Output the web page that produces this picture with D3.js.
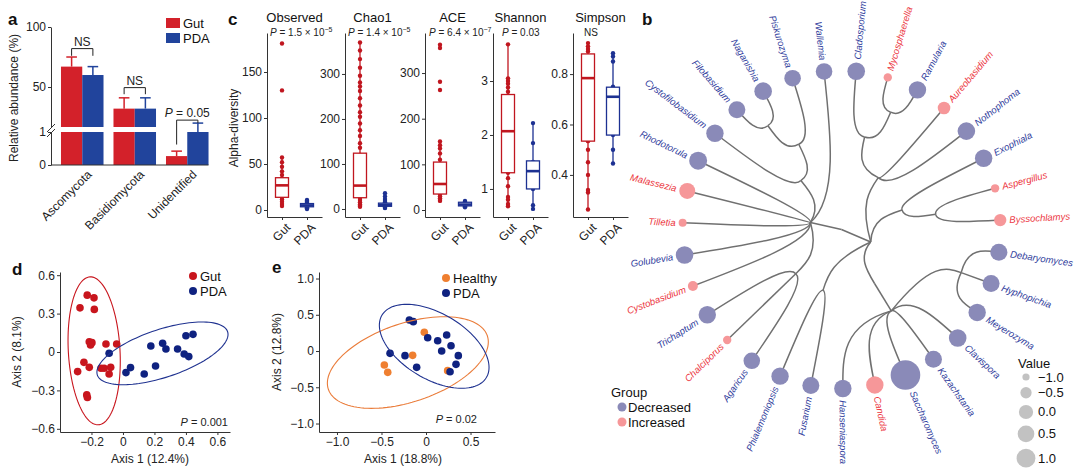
<!DOCTYPE html>
<html>
<head>
<meta charset="utf-8">
<script src="https://cdn.jsdelivr.net/npm/d3@7/dist/d3.min.js"></script>
<style>
html,body{margin:0;padding:0;background:#fff;}
svg{display:block;}
</style>
</head>
<body>
<svg id="fig" width="1080" height="474"></svg>
<script>
// ================= DATA =================
// (a) relative abundance by phylum
const phyla = ["Ascomycota", "Basidiomycota", "Unidentified"];
const gutAbundance = [67, 32, 0.27];
const gutErrorTop  = [75, 41, 0.42];
const pdaAbundance = [60, 32, 1.0];
const pdaErrorTop  = [67, 41, 1.27];
const abundanceTicksUpper = [50, 100];
const abundanceTicksLower = [0, 1];
const abundanceTests = ["NS", "NS", "P = 0.05"];
// bracket: [top, left leg end, right leg end]
const abundanceBrackets = [[82, 76, 76], [49.5, 44, 44], [1.36, 0.62, 1.27]];

// (c) alpha diversity
const alphaMetrics = ["Observed", "Chao1", "ACE", "Shannon", "Simpson"];
const alphaPValues = [["1.5", "−5"], ["1.4", "−5"], ["6.4", "−7"], ["0.03"], ["NS"]];
const alphaDomains = [[-7.6, 192.4], [-17.8, 391], [-15.3, 387.7], [0.48, 3.89], [0.233, 0.963]];
const alphaTicks = [[0, 50, 100, 150], [0, 100, 200, 300], [0, 100, 200, 300], [1, 2, 3], [0.4, 0.6, 0.8]];
// [lower whisker, Q1, median, Q3, upper whisker]
const alphaGutBox = [[3.6, 13.8, 26.8, 35.1, 58], [5, 25, 52, 124, 370], [20, 35, 57, 105, 150], [0.68, 1.3, 2.07, 2.75, 3.68], [0.263, 0.534, 0.784, 0.88, 0.923]];
const alphaPdaBox = [[1, 3.5, 5, 7, 11], [2, 6, 9, 13, 35], [6, 9, 12, 17, 20], [0.63, 1.0, 1.33, 1.52, 2.22], [0.445, 0.558, 0.71, 0.748, 0.883]];
const alphaGutPoints = [
  [181, 130, 57, 52, 47, 42, 38, 34, 30, 27, 24, 20, 16, 14, 11.5, 9, 6.5, 4.3],
  [370, 352, 333, 314, 296, 281, 272, 262, 246, 230, 215, 205, 190, 175, 162, 146, 136, 120, 100, 80, 60, 50, 40, 30, 25, 20, 15, 10, 7, 5],
  [362, 355, 281, 263, 150, 142, 135, 124, 110, 95, 80, 65, 57, 50, 42, 35, 30, 26, 22, 20],
  [3.68, 3.05, 3.0, 2.95, 2.88, 2.8, 2.5, 2.2, 2.0, 1.8, 1.5, 1.3, 1.2, 1.05, 0.85, 0.8, 0.72, 0.68],
  [0.923, 0.91, 0.9, 0.89, 0.8, 0.7, 0.6, 0.534, 0.5, 0.45, 0.4, 0.34, 0.33, 0.263]
];
const alphaPdaPoints = [
  [11, 10, 9, 8, 7, 6, 5, 4.5, 4, 3.5, 3, 2, 1],
  [35, 28, 22, 18, 15, 13, 11, 9, 7, 5, 3, 2],
  [20, 18, 16, 14, 12, 10, 8, 6],
  [2.22, 1.85, 1.5, 1.35, 1.2, 1.0, 0.7, 0.63],
  [0.883, 0.87, 0.85, 0.75, 0.7, 0.6, 0.558, 0.5, 0.445]
];

// (d) PCoA gut vs PDA
const pcoaGut = [[-0.227,0.444],[-0.184,0.423],[-0.273,0.345],[-0.182,0.333],[-0.214,0.080],[-0.197,0.073],[-0.206,0.055],[-0.108,0.062],[-0.04,0.062],[-0.248,-0.081],[-0.214,-0.12],[-0.288,-0.153],[-0.14,-0.127],[-0.12,-0.127],[-0.078,-0.12],[-0.088,-0.172],[-0.23,-0.335],[-0.226,-0.356]];
const pcoaPda = [[-0.088,-0.01],[0.019,-0.161],[0.048,-0.122],[0.135,-0.172],[0.207,-0.109],[0.177,0.047],[0.252,0.068],[0.273,0.023],[0.347,0.023],[0.389,-0.016],[0.418,-0.036],[0.4,0.127],[0.445,0.138]];
const pcoaGutEllipse = {cx: -0.183, cy: 0.009, rx: 0.166, ry: 0.578, rho: -0.14};
const pcoaPdaEllipse = {cx: 0.251, cy: -0.0105, rx: 0.4165, ry: 0.245, rho: 0.602};
const pcoaTicksX = [-0.2, 0, 0.2, 0.4, 0.6];
const pcoaTicksY = [-0.6, -0.3, 0, 0.3, 0.6];

// (e) PCoA healthy vs PDA
const pcoa2Healthy = [[-0.019,0.258],[-0.15,-0.06],[-0.468,-0.193],[-0.43,-0.294],[0.243,-0.271]];
const pcoa2Pda = [[-0.187,0.428],[-0.143,0.405],[0.019,0.184],[0.131,0.142],[0.232,0.221],[0.281,0.073],[0.176,0],[0.363,-0.064],[0.337,-0.184],[0.27,-0.285],[-0.105,-0.225],[-0.236,-0.064],[-0.404,-0.032]];
const pcoa2HealthyEllipse = {cx: -0.204, cy: -0.159, rx: 0.904, ry: 0.632, rho: 0.45};
const pcoa2PdaEllipse = {cx: 0.092, cy: 0.065, rx: 0.616, ry: 0.579, rho: -0.502};
const pcoa2TicksX = [-1.0, -0.5, 0, 0.5];
const pcoa2TicksY = [-1.0, -0.5, 0, 0.5, 1.0];

// (b) genus tree: [node, parent]
const treeLinks = [
  ["root", null],
  ["A", "root"],
  ["SF", "A"], ["Phialemoniopsis", "SF"], ["Fusarium", "SF"],
  ["S0", "A"], ["S", "S0"], ["Hanseniaspora", "S"], ["Candida", "S"], ["Saccharomyces", "S"], ["Kazachstania", "S"], ["Clavispora", "S"],
  ["D", "S"], ["Meyerozyma", "D"], ["Hyphopichia", "D"], ["Debaryomyces", "D"],
  ["A4", "A"], ["A5", "A4"], ["Byssochlamys", "A5"], ["Aspergillus", "A5"], ["Exophiala", "A4"],
  ["A3", "A"], ["Nothophoma", "A3"], ["Aureobasidium", "A3"], ["A1", "A3"], ["A2", "A1"], ["Ramularia", "A2"], ["Mycosphaerella", "A2"], ["Cladosporium", "A1"],
  ["B", "root"], ["Wallemia", "B"], ["B1", "B"], ["N2", "B1"], ["Piskurozyma", "N2"], ["N1", "N2"], ["Naganishia", "N1"], ["Filobasidium", "N1"], ["Cystofilobasidium", "B1"],
  ["Rhodotorula", "B"], ["Malassezia", "B"], ["Tilletia", "B"], ["Golubevia", "B"], ["Cystobasidium", "B"],
  ["B2", "B"], ["Trichaptum", "B2"], ["Chalciporus", "B2"], ["Agaricus", "B2"]
];
const genera = ["Phialemoniopsis","Fusarium","Hanseniaspora","Candida","Saccharomyces","Kazachstania","Clavispora","Meyerozyma","Hyphopichia","Debaryomyces","Byssochlamys","Aspergillus","Exophiala","Nothophoma","Aureobasidium","Ramularia","Mycosphaerella","Cladosporium","Wallemia","Piskurozyma","Naganishia","Filobasidium","Cystofilobasidium","Rhodotorula","Malassezia","Tilletia","Golubevia","Cystobasidium","Trichaptum","Chalciporus","Agaricus"];
const generaGroup = ["Decreased","Decreased","Decreased","Increased","Decreased","Decreased","Decreased","Decreased","Decreased","Decreased","Increased","Increased","Decreased","Decreased","Increased","Decreased","Increased","Decreased","Decreased","Decreased","Decreased","Decreased","Decreased","Decreased","Increased","Increased","Decreased","Increased","Decreased","Increased","Decreased"];
const generaValue = [0.66,0.57,0.66,0.66,4.47,0.57,0.71,0.66,0.57,0.57,-0.33,-0.88,0.66,0.71,-0.29,0.66,-0.88,0.71,0.48,0.48,0.71,0.57,0.66,0.80,0.35,-0.92,0.71,-0.68,0.66,-0.88,0.48];
const valueLegend = [-1.0, -0.5, 0.0, 0.5, 1.0];
const groups = ["Decreased", "Increased"];

// ================= STYLE =================
const FONT = '"Liberation Sans", Arial, Helvetica, sans-serif';
const RED_A = "#d3212a", BLUE_A = "#21449c";
const RED_C = "#c0161f", BLUE_C = "#1d3192";
const RED_D = "#c8151d", NAVY = "#0f2280", ORANGE = "#ef7f30";
const GROUP_FILL = {Decreased: "#8a8ab8", Increased: "#f69799"};
const GROUP_TEXT = {Decreased: "#2f3c9c", Increased: "#ec3641"};
const AX = "#333";

const svg = d3.select("#fig").attr("font-family", FONT);
function styleAxis(g, fs) {
  g.attr("font-family", FONT).attr("font-size", fs || 12);
  g.selectAll(".domain").attr("stroke", AX).attr("stroke-width", 1);
  g.selectAll(".tick line").attr("stroke", AX);
  g.selectAll(".tick text").attr("fill", "#222");
}
const numFmt = d => d === 0 ? "0" : d3.format(".1f")(d);

// panel labels
[["a", 8, 25], ["b", 642, 25], ["c", 228, 25], ["d", 12, 275], ["e", 272, 273]].forEach(([t, x, y]) =>
  svg.append("text").attr("x", x).attr("y", y).attr("font-size", 17).attr("font-weight", "bold").attr("fill", "#111").text(t));

// ================= PANEL A =================
(function () {
  const g = svg.append("g");
  const yLow = d3.scaleLinear().domain([0, 1]).range([165, 132]);
  const yUp = d3.scaleLinear().domain([16.7, 100]).range([127, 27]);
  const x = d3.scaleBand().domain(phyla).range([51, 218.5]).paddingInner(0.19).paddingOuter(0.19);
  const bw = x.bandwidth() / 2;
  const series = [
    {vals: gutAbundance, err: gutErrorTop, col: RED_A, off: 0},
    {vals: pdaAbundance, err: pdaErrorTop, col: BLUE_A, off: 1}
  ];
  series.forEach(s => phyla.forEach((p, i) => {
    const x0 = x(p) + s.off * bw, v = s.vals[i];
    const vl = Math.min(v, 1);
    g.append("rect").attr("x", x0).attr("width", bw).attr("y", yLow(vl)).attr("height", yLow(0) - yLow(vl)).attr("fill", s.col);
    let ysc = yLow, ybar = yLow(vl);
    if (v > 16.7) {
      g.append("rect").attr("x", x0).attr("width", bw).attr("y", yUp(v)).attr("height", yUp(16.7) - yUp(v)).attr("fill", s.col);
      ysc = yUp; ybar = yUp(v);
    }
    const yt = ysc(s.err[i]), cx = x0 + bw / 2;
    g.append("line").attr("x1", cx).attr("x2", cx).attr("y1", ybar).attr("y2", yt).attr("stroke", s.col).attr("stroke-width", 1.5);
    g.append("line").attr("x1", cx - bw / 4).attr("x2", cx + bw / 4).attr("y1", yt).attr("y2", yt).attr("stroke", s.col).attr("stroke-width", 1.5);
  }));
  // axes
  const ga1 = g.append("g").attr("transform", "translate(51,0)").call(d3.axisLeft(yUp).tickValues(abundanceTicksUpper).tickFormat(d3.format("")).tickSize(3).tickSizeOuter(0).tickPadding(2));
  const ga2 = g.append("g").attr("transform", "translate(51,0)").call(d3.axisLeft(yLow).tickValues(abundanceTicksLower).tickFormat(d3.format("")).tickSize(3).tickSizeOuter(0).tickPadding(2));
  styleAxis(ga1, 12); styleAxis(ga2, 12);
  // break marks
  [0, 5].forEach(d => g.append("line").attr("x1", 47).attr("y1", 132 + d).attr("x2", 55).attr("y2", 124 + d).attr("stroke", AX).attr("stroke-width", 1));
  // x axis
  g.append("line").attr("x1", 51).attr("x2", x(phyla[2]) + 2 * bw).attr("y1", 165).attr("y2", 165).attr("stroke", AX);
  phyla.forEach(p => g.append("text").attr("transform", `translate(${x(p) + bw + 4},169) rotate(-45)`)
    .attr("text-anchor", "end").attr("dominant-baseline", "hanging").attr("font-size", 12).attr("fill", "#222").text(p));
  // y label
  g.append("text").attr("transform", "translate(18,98) rotate(-90)").attr("text-anchor", "middle").attr("font-size", 12).attr("fill", "#222").text("Relative abundance (%)");
  // brackets
  phyla.forEach((p, i) => {
    const [top, l, r] = abundanceBrackets[i];
    const sc = top > 16.7 ? yUp : yLow;
    const xl = x(p) + bw / 2, xr = x(p) + 1.5 * bw;
    g.append("path").attr("d", `M${xl},${sc(l)}V${sc(top)}H${xr}V${sc(r)}`).attr("fill", "none").attr("stroke", "#222").attr("stroke-width", 1);
    const t = g.append("text").attr("x", (xl + xr) / 2).attr("y", sc(top) - 3).attr("text-anchor", "middle").attr("font-size", 12).attr("fill", "#222");
    const lab = abundanceTests[i];
    if (lab.startsWith("P")) { t.append("tspan").attr("font-style", "italic").text("P"); t.append("tspan").text(lab.slice(1)); }
    else t.text(lab);
  });
  // legend
  [["Gut", RED_A], ["PDA", BLUE_A]].forEach(([n, c], i) => {
    g.append("rect").attr("x", 166).attr("y", 18 + i * 15).attr("width", 14).attr("height", 10).attr("fill", c);
    g.append("text").attr("x", 183).attr("y", 27.5 + i * 15).attr("font-size", 13).attr("fill", "#111").text(n);
  });
})();

// ================= PANEL C =================
(function () {
  const g = svg.append("g");
  const axisX = [267, 345, 425, 493, 573];
  const pLabelX = [270, 348, 429, 502, 584];
  const W = 55, top = 33, bottom = 217;
  alphaMetrics.forEach((m, i) => {
    const x0 = axisX[i];
    const xs = d3.scalePoint().domain(["Gut", "PDA"]).range([x0, x0 + W]).padding(0.6);
    const ys = d3.scaleLinear().domain(alphaDomains[i]).range([bottom, top]);
    const gy = g.append("g").attr("transform", `translate(${x0},0)`).call(d3.axisLeft(ys).tickValues(alphaTicks[i]).tickSize(3).tickSizeOuter(0).tickPadding(2).tickFormat(d3.format("")));
    styleAxis(gy, 12);
    const gx = g.append("g").attr("transform", `translate(0,${bottom})`).call(d3.axisBottom(xs).tickSize(3).tickSizeOuter(0).tickFormat(""));
    styleAxis(gx, 12);
    ["Gut", "PDA"].forEach(c => g.append("text").attr("transform", `translate(${xs(c) + 3},${bottom + 5}) rotate(-45)`)
      .attr("text-anchor", "end").attr("dominant-baseline", "hanging").attr("font-size", 12).attr("fill", "#222").text(c));
    g.append("text").attr("x", x0 + W / 2).attr("y", 22).attr("text-anchor", "middle").attr("font-size", 13).attr("fill", "#111").text(m);
    const pv = alphaPValues[i];
    const t = g.append("text").attr("x", pLabelX[i]).attr("y", 36).attr("font-size", 10).attr("fill", "#222");
    if (pv[0] === "NS") t.text("NS");
    else {
      t.append("tspan").attr("font-style", "italic").text("P");
      t.append("tspan").text(" = " + pv[0] + (pv.length > 1 ? " × 10" : ""));
      if (pv.length > 1) t.append("tspan").attr("dy", -4).attr("font-size", 7).text(pv[1]);
    }
    [["Gut", alphaGutBox[i], alphaGutPoints[i], RED_C], ["PDA", alphaPdaBox[i], alphaPdaPoints[i], BLUE_C]].forEach(([c, b, pts, col]) => {
      const cx = xs(c), hw = 6.5;
      g.append("line").attr("x1", cx).attr("x2", cx).attr("y1", ys(b[0])).attr("y2", ys(b[4])).attr("stroke", col).attr("stroke-width", 1.3);
      pts.forEach(v => g.append("circle").attr("cx", cx).attr("cy", ys(v)).attr("r", 2.2).attr("fill", col));
      g.append("rect").attr("x", cx - hw).attr("width", 2 * hw).attr("y", ys(b[3])).attr("height", ys(b[1]) - ys(b[3]))
        .attr("fill", "#fff").attr("stroke", col).attr("stroke-width", 1.3);
      g.append("line").attr("x1", cx - hw).attr("x2", cx + hw).attr("y1", ys(b[2])).attr("y2", ys(b[2])).attr("stroke", col).attr("stroke-width", 2.6);
    });
  });
  g.append("text").attr("transform", "translate(237.5,128) rotate(-90)").attr("text-anchor", "middle").attr("font-size", 12).attr("fill", "#222").text("Alpha-diversity");
})();

// ================= ELLIPSE HELPER =================
function ellipsePath(e, xs, ys) {
  const s = Math.sqrt(1 - e.rho * e.rho);
  const pts = d3.range(0, 121).map(k => {
    const t = k / 120 * 2 * Math.PI;
    return [xs(e.cx + e.rx * Math.cos(t)), ys(e.cy + e.ry * (e.rho * Math.cos(t) + s * Math.sin(t)))];
  });
  return d3.line()(pts) + "Z";
}
function scatterPanel(opts) {
  const g = svg.append("g");
  const xs = d3.scaleLinear().domain(opts.xDomain).range(opts.xRange);
  const ys = d3.scaleLinear().domain(opts.yDomain).range(opts.yRange);
  const gx = g.append("g").attr("transform", `translate(0,${opts.yRange[0]})`).call(d3.axisBottom(xs).tickValues(opts.xTicks).tickFormat(numFmt).tickSize(3).tickSizeOuter(0).tickPadding(2));
  const gy = g.append("g").attr("transform", `translate(${opts.xRange[0]},0)`).call(d3.axisLeft(ys).tickValues(opts.yTicks).tickFormat(numFmt).tickSize(3).tickSizeOuter(0).tickPadding(2));
  styleAxis(gx, 12); styleAxis(gy, 12);
  opts.series.forEach(s => {
    s.pts.forEach(p => g.append("circle").attr("cx", xs(p[0])).attr("cy", ys(p[1])).attr("r", 3.8).attr("fill", s.col));
  });
  opts.series.forEach(s => g.append("path").attr("d", ellipsePath(s.ell, xs, ys)).attr("fill", "none").attr("stroke", s.ecol).attr("stroke-width", 1.1));
  g.append("text").attr("x", (opts.xRange[0] + opts.xRange[1]) / 2 + opts.xTitleDx).attr("y", 463).attr("text-anchor", "middle").attr("font-size", 12).attr("fill", "#222").text(opts.xTitle);
  g.append("text").attr("transform", `translate(${opts.yTitleX},352) rotate(-90)`).attr("text-anchor", "middle").attr("font-size", 12).attr("fill", "#222").text(opts.yTitle);
  const pt = g.append("text").attr("x", opts.pX).attr("y", opts.pY).attr("text-anchor", "end").attr("font-size", 11).attr("fill", "#222");
  pt.append("tspan").attr("font-style", "italic").text("P");
  pt.append("tspan").text(" = " + opts.p);
  opts.series.forEach((s, i) => {
    g.append("circle").attr("cx", opts.legX).attr("cy", opts.legY + i * 15).attr("r", 4).attr("fill", s.col);
    g.append("text").attr("x", opts.legX + 7).attr("y", opts.legY + i * 15 + 4.5).attr("font-size", 13).attr("fill", "#111").text(s.name);
  });
}
scatterPanel({
  xDomain: [-0.4, 0.68], xRange: [60, 230], yDomain: [-0.625, 0.625], yRange: [432, 272],
  xTicks: pcoaTicksX, yTicks: pcoaTicksY,
  series: [
    {name: "Gut", pts: pcoaGut, col: RED_D, ell: pcoaGutEllipse, ecol: RED_D},
    {name: "PDA", pts: pcoaPda, col: NAVY, ell: pcoaPdaEllipse, ecol: "#1f3290"}
  ],
  xTitle: "Axis 1 (12.4%)", xTitleDx: 5, yTitle: "Axis 2 (8.1%)", yTitleX: 21,
  p: "0.001", pX: 228, pY: 426, legX: 193, legY: 276
});
scatterPanel({
  xDomain: [-1.202, 0.775], xRange: [319, 495], yDomain: [-1.117, 1.09], yRange: [432, 272],
  xTicks: pcoa2TicksX, yTicks: pcoa2TicksY,
  series: [
    {name: "Healthy", pts: pcoa2Healthy, col: ORANGE, ell: pcoa2HealthyEllipse, ecol: "#ea7c3a"},
    {name: "PDA", pts: pcoa2Pda, col: NAVY, ell: pcoa2PdaEllipse, ecol: "#1f3290"}
  ],
  xTitle: "Axis 1 (18.8%)", xTitleDx: -4, yTitle: "Axis 2 (12.8%)", yTitleX: 281,
  p: "0.02", pX: 477, pY: 423, legX: 446, legY: 278
});

// ================= PANEL B (tree) =================
(function () {
  const g = svg.append("g");
  const treeCx = 841.5, treeCy = 229.5, treeR = 159, angleOffset = 241.46;
  const root = d3.stratify().id(d => d[0]).parentId(d => d[1])(treeLinks);
  d3.cluster().size([360, 1]).separation(() => 1)(root);
  const rDepth = d3.scaleLinear().domain([0, 5]).range([0, treeR]);
  const size = d3.scaleRadial().domain([-1, 1]).range([3.6, 9.4]);
  const info = {};
  genera.forEach((n, i) => info[n] = {group: generaGroup[i], value: generaValue[i]});
  root.each(n => {
    n.deg = angleOffset + n.x;
    n.ang = n.deg * Math.PI / 180;
    n.rad = n.children ? rDepth(n.depth) : treeR;
  });
  const polar = (a, r) => [treeCx + r * Math.cos(a), treeCy - r * Math.sin(a)];
  root.links().forEach(({source: p, target: c}) => {
    const p0 = polar(p.ang, p.rad), p1 = polar(c.ang, p.rad), p2 = polar(c.ang, (p.rad + c.rad) / 2), p3 = polar(c.ang, c.rad);
    g.append("path").attr("d", `M${p0}C${p1} ${p2} ${p3}`).attr("fill", "none").attr("stroke", "#707070").attr("stroke-width", 1.5);
  });
  root.leaves().forEach(n => {
    const d = info[n.id], r = size(d.value);
    const [x, y] = polar(n.ang, n.rad);
    g.append("circle").attr("cx", x).attr("cy", y).attr("r", r).attr("fill", GROUP_FILL[d.group]);
    const deg = ((n.deg % 360) + 360) % 360;
    const right = deg < 90 || deg >= 270;
    const [lx, ly] = polar(n.ang, treeR + r + 3);
    g.append("text").attr("transform", `translate(${lx},${ly}) rotate(${right ? -deg : 180 - deg})`)
      .attr("text-anchor", right ? "start" : "end").attr("dominant-baseline", "central")
      .attr("font-size", 9.5).attr("font-style", "italic").attr("fill", GROUP_TEXT[d.group]).text(n.id);
  });
  // group legend
  g.append("text").attr("x", 611).attr("y", 397).attr("font-size", 13).attr("fill", "#111").text("Group");
  groups.forEach((gr, i) => {
    g.append("circle").attr("cx", 622).attr("cy", 407 + i * 15).attr("r", 4.5).attr("fill", GROUP_FILL[gr]);
    g.append("text").attr("x", 628).attr("y", 411.5 + i * 15).attr("font-size", 13).attr("fill", "#111").text(gr);
  });
  // value legend
  g.append("text").attr("x", 1018).attr("y", 368).attr("font-size", 13).attr("fill", "#111").text("Value");
  let yy = 377, prev = null;
  valueLegend.forEach(v => {
    const r = size(v);
    if (prev !== null) yy += prev + r + 6.5;
    g.append("circle").attr("cx", 1026).attr("cy", yy).attr("r", r).attr("fill", "#c2c2c2");
    g.append("text").attr("x", 1038).attr("y", yy + 4.5).attr("font-size", 13).attr("fill", "#111").text(d3.format(".1f")(v));
    prev = r;
  });
})();
</script>
</body>
</html>
